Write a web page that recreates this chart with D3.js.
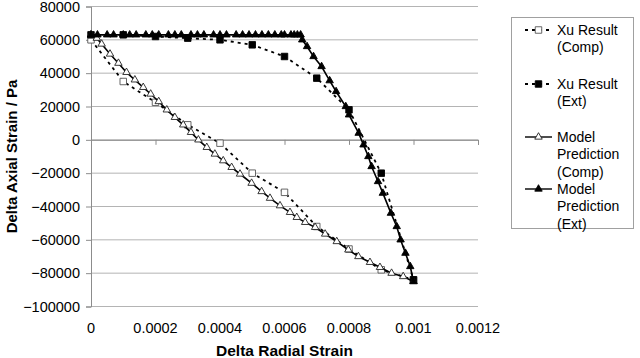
<!DOCTYPE html>
<html>
<head>
<meta charset="utf-8">
<script src="https://cdn.jsdelivr.net/npm/d3@7"></script>
<style>
  body { margin: 0; background: #fff; }
  svg { font-family: "Liberation Sans", Arial, sans-serif; }
</style>
</head>
<body>
<div id="chart"></div>
<script>
// data: [radial strain, axial strain (Pa)]
var xuComp = [[0, 60000], [0.0001, 35000], [0.0002, 22500], [0.0003, 9000], [0.0004, -2000],
  [0.0005, -20000], [0.0006, -31500], [0.0007, -52000], [0.0008, -65500], [0.0009, -78000], [0.001, -84000]];

var xuExt = [[0, 63000], [0.0001, 63000], [0.0002, 62000], [0.0003, 61000], [0.0004, 60000],
  [0.0005, 57000], [0.0006, 50000], [0.0007, 37000], [0.0008, 18000], [0.0009, -20000], [0.001, -84000]];

var modelComp = [[0, 63000], [0.000018, 61000], [0.000033, 57500], [0.000059, 51500], [0.000085, 46000],
  [0.00011, 40500], [0.000136, 36000], [0.000162, 31500], [0.000185, 27500], [0.00021, 23000],
  [0.000235, 18000], [0.00026, 13500], [0.000286, 9000], [0.00031, 4500], [0.000333, 0],
  [0.000359, -4500], [0.000384, -8500], [0.00041, -12500], [0.000436, -16500], [0.000462, -20500],
  [0.000498, -26000], [0.000529, -31000], [0.000555, -35000], [0.000586, -39500], [0.000617, -43500],
  [0.000638, -46500], [0.000664, -49500], [0.000695, -52500], [0.000726, -56500], [0.000762, -61000],
  [0.000798, -66000], [0.000829, -70000], [0.000865, -73500], [0.000896, -76500], [0.000932, -80000],
  [0.000968, -82000], [0.001, -85000]];

var modelExt = [[0, 63000], [0.00002, 63000], [0.00005, 63000], [0.00007, 63000], [0.0001, 63000],
  [0.00012, 63000], [0.00014, 63000], [0.00017, 63000], [0.00019, 63000], [0.00021, 63000],
  [0.00024, 63000], [0.00026, 63000], [0.00028, 63000], [0.00031, 63000], [0.00033, 63000],
  [0.00035, 63000], [0.00038, 63000], [0.0004, 63000], [0.00042, 63000], [0.00045, 63000],
  [0.00047, 63000], [0.00049, 63000], [0.00051, 63000], [0.00053, 63000], [0.00055, 63000],
  [0.00057, 63000], [0.00059, 63000], [0.0006, 63000], [0.00062, 63000], [0.00063, 63000],
  [0.00064, 63000], [0.00065, 63000], [0.000655, 60000], [0.00067, 56000], [0.00069, 50000],
  [0.000715, 44000], [0.00074, 35500], [0.00076, 29000], [0.00079, 20000], [0.0008, 15000],
  [0.00083, 4000], [0.000845, -3000], [0.00086, -10000], [0.00087, -16000], [0.00089, -25000],
  [0.000905, -32000], [0.00093, -44000], [0.000948, -52000], [0.00096, -60000], [0.000975, -68000],
  [0.00099, -76000], [0.001, -85000]];

var xTicks = [0, 0.0002, 0.0004, 0.0006, 0.0008, 0.001, 0.0012];
var xTickLabels = ["0", "0.0002", "0.0004", "0.0006", "0.0008", "0.001", "0.0012"];
var yTicks = [80000, 60000, 40000, 20000, 0, -20000, -40000, -60000, -80000, -100000];

var legendLabels = [["Xu Result", "(Comp)"], ["Xu Result", "(Ext)"],
  ["Model", "Prediction", "(Comp)"], ["Model", "Prediction", "(Ext)"]];

// dimensions
var W = 640, H = 358;
var margin = { top: 6.5, left: 91 },
  width = 387,
  height = 300;

var svg = d3.select("#chart").append("svg")
  .attr("width", W)
  .attr("height", H);

var g = svg.append("g")
  .attr("transform", "translate(" + margin.left + "," + margin.top + ")");

var x = d3.scaleLinear().domain([0, 0.0012]).range([0, width]);
var y = d3.scaleLinear().domain([-100000, 80000]).range([height, 0]);

// gridlines
g.selectAll(".grid")
  .data(yTicks)
  .enter()
  .append("line")
  .attr("x1", 0).attr("x2", width)
  .attr("y1", function (d) { return y(d); })
  .attr("y2", function (d) { return y(d); })
  .attr("stroke", "#b4b4b4")
  .attr("stroke-width", 1);

// y axis
var yAxis = g.append("g")
  .call(d3.axisLeft(y).tickValues(yTicks).tickSize(5).tickPadding(6).tickFormat(d3.format("d")));
yAxis.select(".domain").attr("stroke", "#8c8c8c");
yAxis.selectAll(".tick line").attr("stroke", "#8c8c8c");
yAxis.selectAll("text").attr("font-size", "14.5px").attr("fill", "#000")
  .style("font-family", "Liberation Sans, Arial, sans-serif");

// x axis crossing at zero, labels at the bottom
var xAxis = g.append("g")
  .attr("transform", "translate(0," + y(0) + ")")
  .call(d3.axisBottom(x).tickValues(xTicks).tickSize(5).tickFormat(""));
xAxis.select(".domain").attr("stroke", "#8c8c8c");
xAxis.selectAll(".tick line").attr("stroke", "#8c8c8c");

g.selectAll(".xlab")
  .data(xTicks)
  .enter()
  .append("text")
  .attr("x", function (d) { return x(d); })
  .attr("y", height + 26)
  .attr("text-anchor", "middle")
  .attr("font-size", "14.5px")
  .text(function (d, i) { return xTickLabels[i]; });

var line = d3.line()
  .x(function (d) { return x(d[0]); })
  .y(function (d) { return y(d[1]); });

var sq = d3.symbol().type(d3.symbolSquare).size(42);
var tri = d3.symbol().type(d3.symbolTriangle).size(24);

var series = [
  { data: xuComp, dash: "3,4", sym: sq, fill: "#fff", stroke: "#555" },
  { data: xuExt, dash: "3,4", sym: sq, fill: "#000", stroke: "#000" },
  { data: modelComp, dash: null, sym: tri, fill: "#fff", stroke: "#222" },
  { data: modelExt, dash: null, sym: tri, fill: "#000", stroke: "#000" }
];

series.forEach(function (s) {
  g.append("path")
    .datum(s.data)
    .attr("d", line)
    .attr("fill", "none")
    .attr("stroke", "#000")
    .attr("stroke-width", s.dash ? 1.8 : 1.6)
    .attr("stroke-dasharray", s.dash);

  g.selectAll(null)
    .data(s.data)
    .enter()
    .append("path")
    .attr("d", s.sym)
    .attr("transform", function (d) { return "translate(" + x(d[0]) + "," + y(d[1]) + ")"; })
    .attr("fill", s.fill)
    .attr("stroke", s.stroke)
    .attr("stroke-width", 0.9);
});

// axis titles
svg.append("text")
  .attr("transform", "translate(17," + (margin.top + height / 2) + ") rotate(-90)")
  .attr("text-anchor", "middle")
  .attr("font-size", "15px")
  .attr("font-weight", "bold")
  .text("Delta Axial Strain / Pa");

svg.append("text")
  .attr("x", margin.left + width / 2)
  .attr("y", 356)
  .attr("text-anchor", "middle")
  .attr("font-size", "15.5px")
  .attr("font-weight", "bold")
  .text("Delta Radial Strain");

// legend
var legend = svg.append("g");
legend.append("rect")
  .attr("x", 511.5).attr("y", 17.5)
  .attr("width", 122).attr("height", 211)
  .attr("fill", "#fff")
  .attr("stroke", "#a0a0a0");

var entryY = [30, 84, 137, 189];
legendLabels.forEach(function (lines, i) {
  var s = series[i];
  var ly = entryY[i];
  legend.append("line")
    .attr("x1", 525).attr("x2", 552)
    .attr("y1", ly).attr("y2", ly)
    .attr("stroke", "#000")
    .attr("stroke-width", s.dash ? 1.8 : 1.4)
    .attr("stroke-dasharray", s.dash);
  legend.append("path")
    .attr("d", s.sym)
    .attr("transform", "translate(538.5," + ly + ")")
    .attr("fill", s.fill)
    .attr("stroke", s.stroke)
    .attr("stroke-width", 0.9);
  lines.forEach(function (t, j) {
    legend.append("text")
      .attr("x", 557)
      .attr("y", ly + 5 + j * 17.3)
      .attr("font-size", "14px")
      .text(t);
  });
});
</script>
</body>
</html>
